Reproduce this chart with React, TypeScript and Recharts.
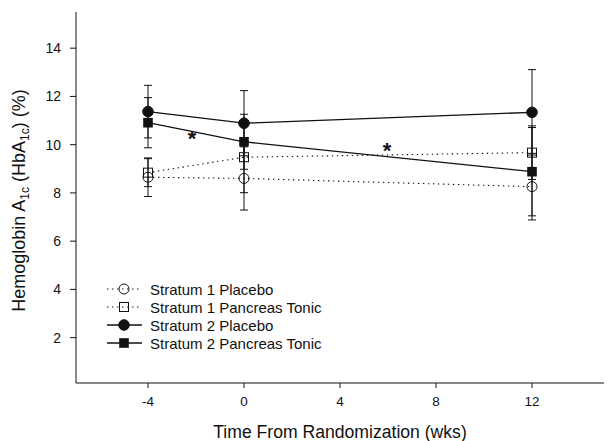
import React from "react"
import {
  ComposedChart,
  Line,
  XAxis,
  YAxis,
  ErrorBar,
  Legend,
  ReferenceDot,
} from "recharts"

const weeks = [-4, 0, 12]

const s1Placebo = [8.65, 8.6, 8.26]
const s1PlaceboErr = [0.8, 1.31, 1.38]
const s1Tonic = [8.84, 9.48, 9.67]
const s1TonicErr = [0.58, 1.47, 1.11]
const s2Placebo = [11.37, 10.89, 11.34]
const s2PlaceboErr = [1.09, 1.35, 1.77]
const s2Tonic = [10.91, 10.12, 8.88]
const s2TonicErr = [1.04, 1.14, 1.83]

const xTicks = [-4, 0, 4, 8, 12]
const yTicks = [2, 4, 6, 8, 10, 12, 14]

// significance markers (week, value)
const starWeeks = [-2.17, 5.96]
const starValues = [10.32, 9.82]

const seriesNames = [
  "Stratum 1 Placebo",
  "Stratum 1 Pancreas Tonic",
  "Stratum 2 Placebo",
  "Stratum 2 Pancreas Tonic",
]

const data = weeks.map((w, i) => ({
  week: w,
  s1p: s1Placebo[i],
  s1pErr: s1PlaceboErr[i],
  s1t: s1Tonic[i],
  s1tErr: s1TonicErr[i],
  s2p: s2Placebo[i],
  s2pErr: s2PlaceboErr[i],
  s2t: s2Tonic[i],
  s2tErr: s2TonicErr[i],
}))

const INK = "#111"
const FONT = "'Liberation Sans', Arial, sans-serif"
const DOTTED = "1.4 3.6"

type Kind = "openCircle" | "openSquare" | "circle" | "square"
const kinds: Kind[] = ["openCircle", "openSquare", "circle", "square"]

function marker(kind: Kind, cx: number, cy: number, key?: any) {
  if (kind === "openCircle")
    return <circle key={key} cx={cx} cy={cy} r={5} fill="none" stroke={INK} strokeWidth={1} />
  if (kind === "circle")
    return <circle key={key} cx={cx} cy={cy} r={5.3} fill={INK} stroke={INK} />
  if (kind === "openSquare")
    return <rect key={key} x={cx - 4.5} y={cy - 4.5} width={9} height={9} fill="none" stroke={INK} strokeWidth={1} />
  return <rect key={key} x={cx - 4.8} y={cy - 4.8} width={9.6} height={9.6} fill={INK} />
}

const dotFor = (kind: Kind) => (p: any) => marker(kind, p.cx, p.cy, p.index)

function LegendRows() {
  return (
    <div style={{ fontFamily: FONT, fontSize: 15, color: "#111" }}>
      {seriesNames.map((name, i) => (
        <div key={name} style={{ display: "flex", alignItems: "center", height: 18 }}>
          <svg width={38} height={14} style={{ display: "block" }}>
            <line
              x1={0}
              x2={35}
              y1={7}
              y2={7}
              stroke={INK}
              strokeWidth={i < 2 ? 1.1 : 1.3}
              strokeDasharray={i < 2 ? DOTTED : undefined}
            />
            {marker(kinds[i], 17, 7)}
          </svg>
          <span style={{ marginLeft: 5 }}>{name}</span>
        </div>
      ))}
    </div>
  )
}

function YLabel(props: any) {
  const vb = props.viewBox || { x: 0, y: 12, width: 76, height: 371 }
  const cx = 25
  const cy = vb.y + vb.height / 2 + 3
  return (
    <text
      x={cx}
      y={cy}
      transform={`rotate(-90, ${cx}, ${cy})`}
      textAnchor="middle"
      fontFamily={FONT}
      fontSize={18}
      fill="#111"
    >
      Hemoglobin A
      <tspan fontSize={12} dy={4}>1c</tspan>
      <tspan dy={-4}> (HbA</tspan>
      <tspan fontSize={12} dy={4}>1c</tspan>
      <tspan dy={-4}>) (%)</tspan>
    </text>
  )
}

function Star(p: any) {
  return (
    <text x={p.cx} y={p.cy + 9} textAnchor="middle" fontFamily={FONT} fontSize={22} fontWeight="bold" fill={INK}>
      *
    </text>
  )
}

export default function App() {
  return (
    <div style={{ position: "absolute", left: 0, top: 0, background: "#fff" }}>
      <ComposedChart
        width={610}
        height={441}
        data={data}
        margin={{ top: 12, right: 6, bottom: 0, left: 0 }}
      >
        <XAxis
          dataKey="week"
          type="number"
          domain={[-7, 15]}
          ticks={xTicks}
          allowDataOverflow
          height={58}
          stroke={INK}
          tickSize={5}
          tickMargin={8}
          tick={{ fill: "#111", fontFamily: FONT, fontSize: 13.5 }}
          label={{
            value: "Time From Randomization (wks)",
            position: "insideBottom",
            offset: 3,
            fill: "#111",
            fontFamily: FONT,
            fontSize: 17.6,
          }}
        />
        <YAxis
          type="number"
          domain={[0.12, 15.5]}
          ticks={yTicks}
          allowDataOverflow
          width={76}
          stroke={INK}
          tickSize={6}
          tickMargin={9}
          tick={{ fill: "#111", fontFamily: FONT, fontSize: 14 }}
          label={<YLabel />}
        />
        <Legend
          layout="vertical"
          align="center"
          verticalAlign="middle"
          content={<LegendRows />}
          wrapperStyle={{ left: 107, top: 280, width: 260 }}
        />
        <Line
          dataKey="s1p"
          name={seriesNames[0]}
          stroke={INK}
          strokeWidth={1.1}
          strokeDasharray={DOTTED}
          dot={dotFor("openCircle")}
          isAnimationActive={false}
        >
          <ErrorBar dataKey="s1pErr" direction="y" width={4} stroke={INK} strokeWidth={1} />
        </Line>
        <Line
          dataKey="s1t"
          name={seriesNames[1]}
          stroke={INK}
          strokeWidth={1.1}
          strokeDasharray={DOTTED}
          dot={dotFor("openSquare")}
          isAnimationActive={false}
        >
          <ErrorBar dataKey="s1tErr" direction="y" width={4} stroke={INK} strokeWidth={1} />
        </Line>
        <Line
          dataKey="s2p"
          name={seriesNames[2]}
          stroke={INK}
          strokeWidth={1.3}
          dot={dotFor("circle")}
          isAnimationActive={false}
        >
          <ErrorBar dataKey="s2pErr" direction="y" width={4} stroke={INK} strokeWidth={1} />
        </Line>
        <Line
          dataKey="s2t"
          name={seriesNames[3]}
          stroke={INK}
          strokeWidth={1.3}
          dot={dotFor("square")}
          isAnimationActive={false}
        >
          <ErrorBar dataKey="s2tErr" direction="y" width={4} stroke={INK} strokeWidth={1} />
        </Line>
        {starWeeks.map((w, i) => (
          <ReferenceDot key={i} x={w} y={starValues[i]} r={0} shape={<Star />} />
        ))}
      </ComposedChart>
    </div>
  )
}
